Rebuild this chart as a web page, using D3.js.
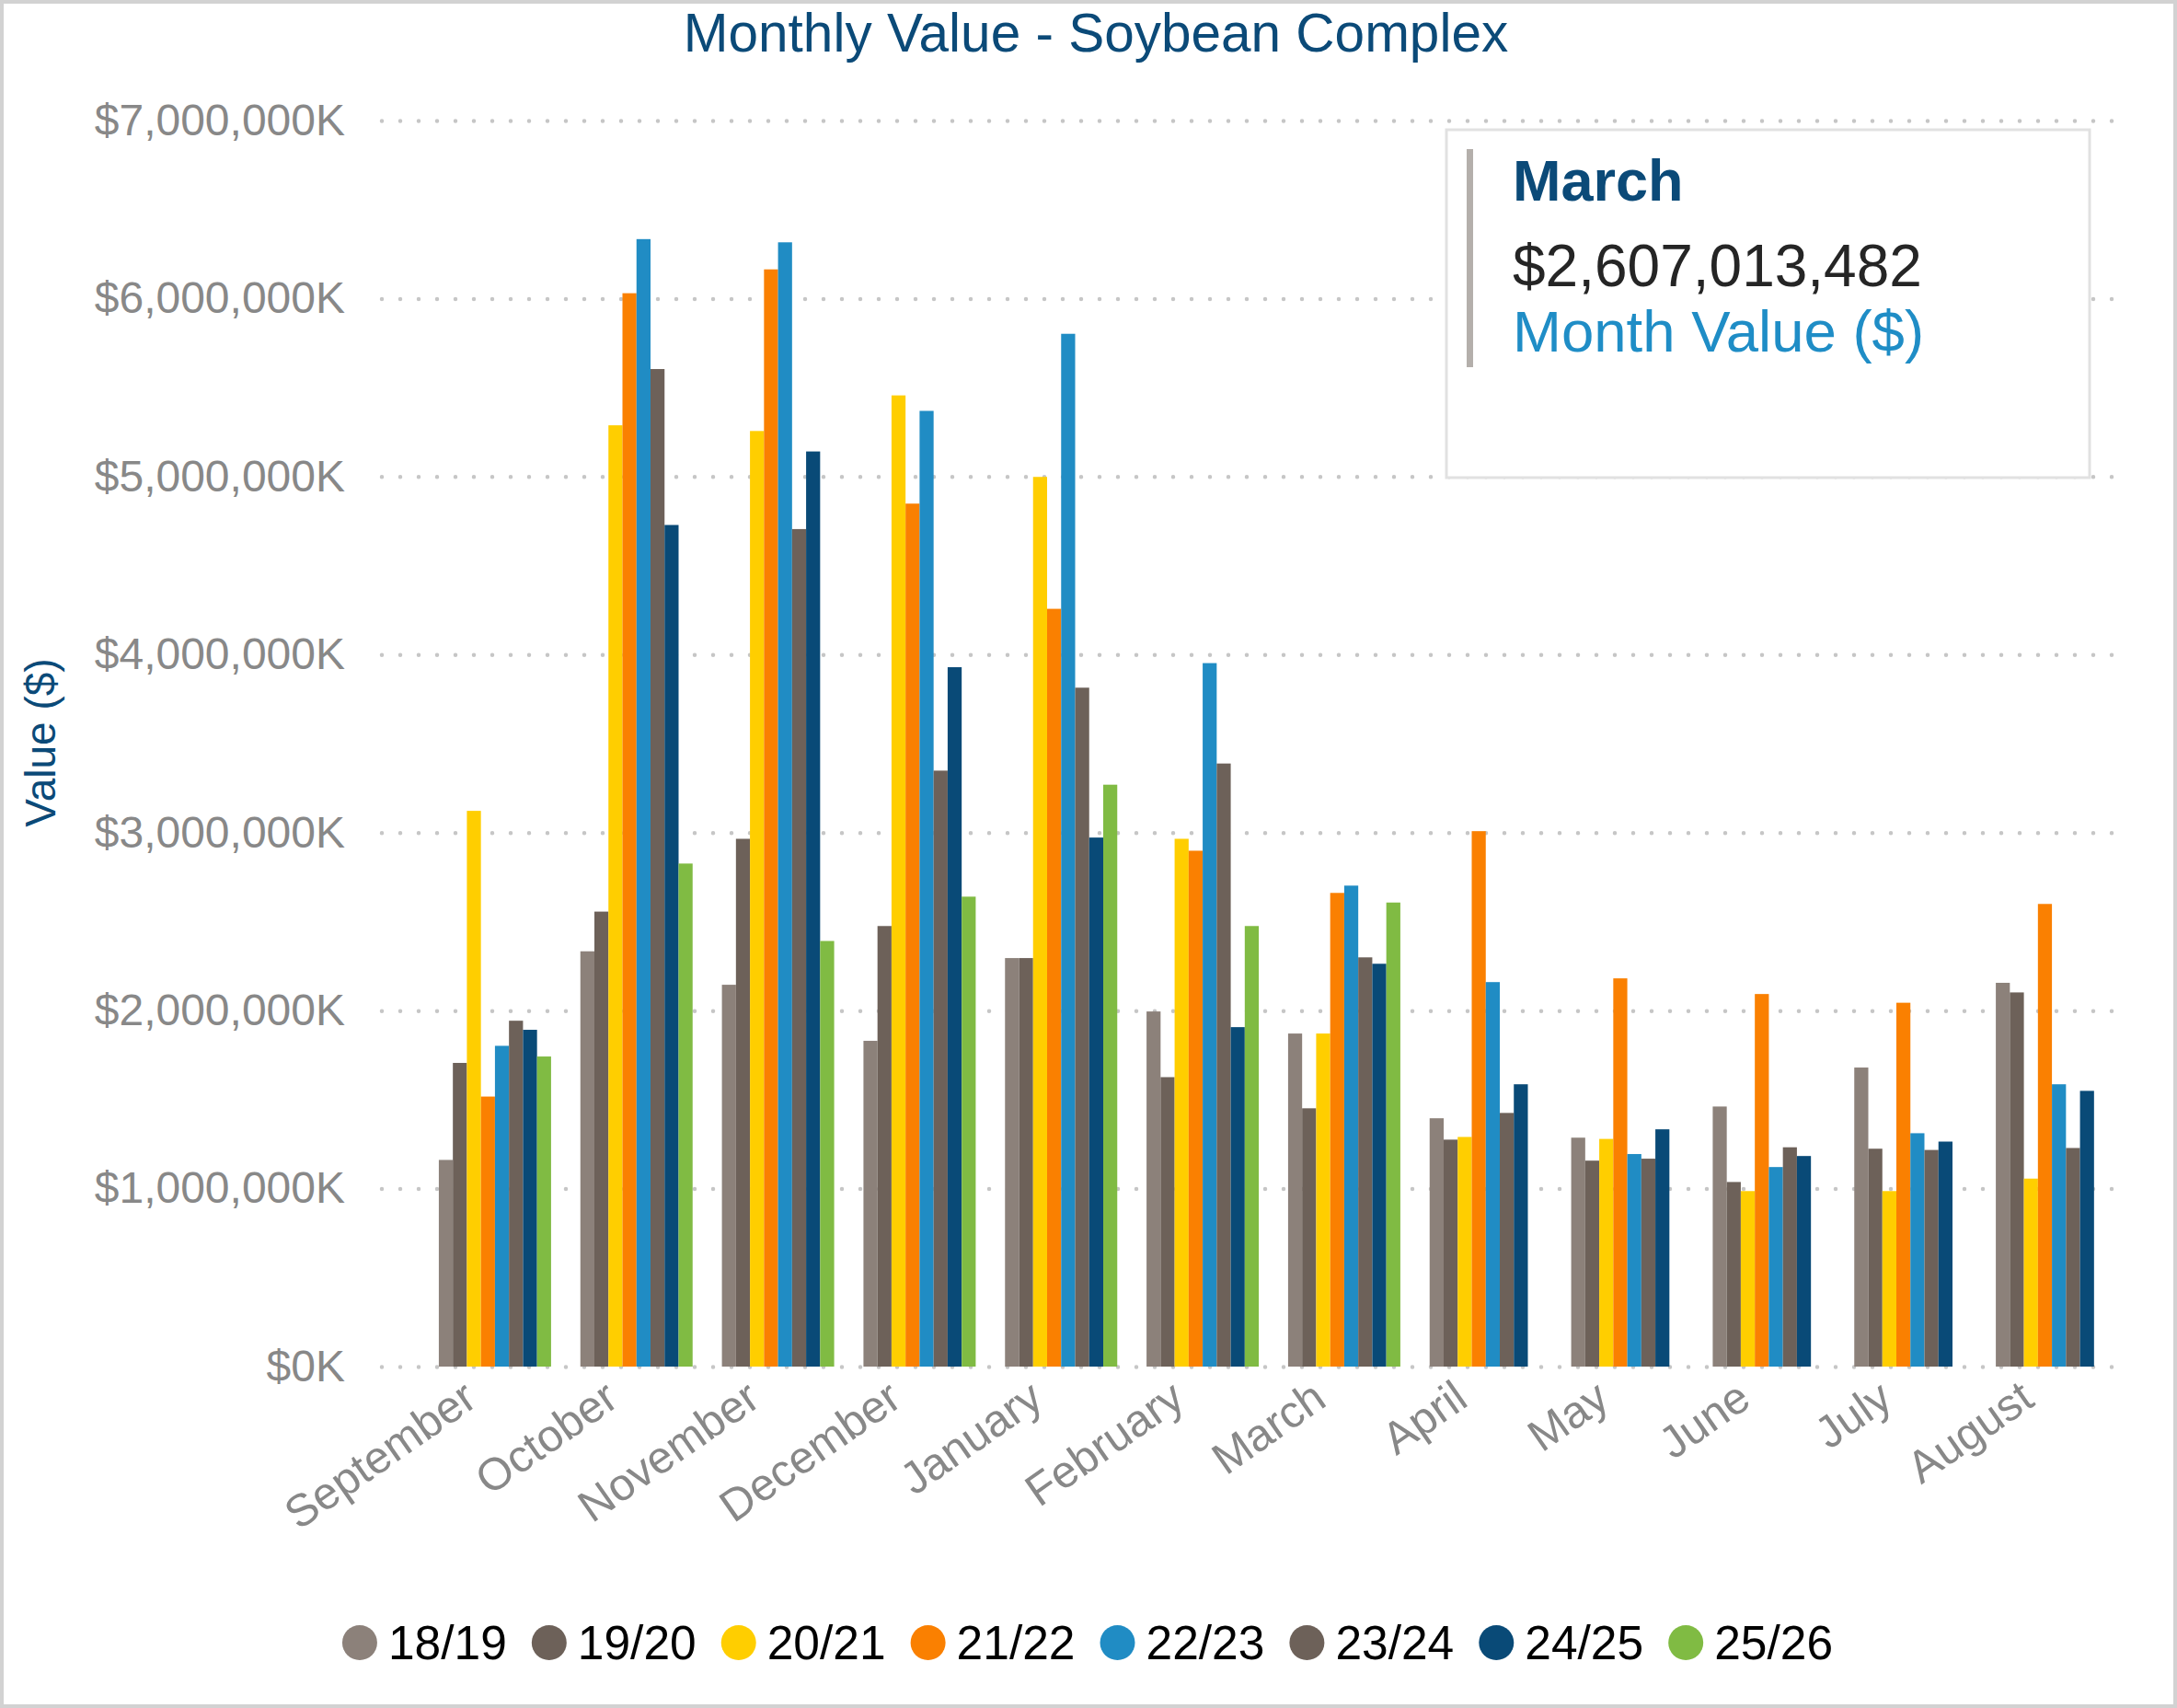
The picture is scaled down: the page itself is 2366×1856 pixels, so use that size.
<!DOCTYPE html>
<html>
<head>
<meta charset="utf-8">
<script src="https://cdn.jsdelivr.net/npm/d3@7"></script>
<style>
  body { margin: 0; background: #fff; }
  svg { display: block; font-family: "Liberation Sans", Arial, sans-serif; }
</style>
</head>
<body>
<svg id="chart"></svg>
<script>
// values in millions of dollars
const months = ["September", "October", "November", "December", "January", "February",
  "March", "April", "May", "June", "July", "August"]
const seasons = ["18/19", "19/20", "20/21", "21/22", "22/23", "23/24", "24/25", "25/26"]
const colors = ["#8c817a", "#6d6159", "#ffce00", "#fa8001", "#208cc4", "#6d6159", "#094a77", "#80bb43"]

const v1819 = [1161, 2333, 2145, 1830, 2295, 1995, 1871, 1395, 1286, 1461, 1680, 2156]
const v1920 = [1706, 2556, 2965, 2475, 2295, 1626, 1451, 1275, 1157, 1037, 1224, 2102]
const v2021 = [3122, 5288, 5256, 5456, 4998, 2965, 1871, 1290, 1279, 986, 986, 1056]
const v2122 = [1517, 6030, 6164, 4848, 4257, 2898, 2661, 3008, 2181, 2093, 2044, 2599]
const v2223 = [1802, 6334, 6316, 5369, 5802, 3952, 2702, 2160, 1194, 1121, 1311, 1586]
const v2324 = [1943, 5604, 4705, 3348, 3814, 3388, 2299, 1425, 1168, 1232, 1217, 1228]
const v2425 = [1892, 4728, 5141, 3929, 2972, 1907, 2263, 1586, 1333, 1183, 1264, 1549]
const v2526 = [1742, 2826, 2391, 2640, 3269, 2475, 2607.013482, null, null, null, null, null]
const seriesValues = [v1819, v1920, v2021, v2122, v2223, v2324, v2425, v2526]

const yTicks = [0, 1000, 2000, 3000, 4000, 5000, 6000, 7000]
const tipMonth = "March"
const tipSeason = "25/26"

const W = 2366, H = 1856
const navy = "#0b4a78"

const svg = d3.select("#chart")
  .attr("width", W)
  .attr("height", H)

svg.append("rect")
  .attr("x", 2).attr("y", 2)
  .attr("width", W - 4).attr("height", H - 4)
  .attr("fill", "#fff")
  .attr("stroke", "#d2d2d2")
  .attr("stroke-width", 4)

const x0 = d3.scaleBand()
  .domain(months)
  .range([461, 2307])
  .paddingInner(0.207)
  .paddingOuter(0.1035)

const x1 = d3.scaleBand()
  .domain(seasons)
  .range([0, x0.bandwidth()])

const y = d3.scaleLinear()
  .domain([0, 7000])
  .range([1485, 131])

// dotted gridlines
const grid = svg.append("g")
  .attr("transform", "translate(415,0)")
  .call(d3.axisLeft(y).tickValues(yTicks).tickSize(-(2297 - 415)).tickFormat(""))
grid.select(".domain").remove()
grid.selectAll("line")
  .attr("stroke", "#c6c6c6")
  .attr("stroke-width", 4.5)
  .attr("stroke-linecap", "round")
  .attr("stroke-dasharray", "0,20")

// y axis labels
const yAxis = svg.append("g")
  .attr("transform", "translate(375,0)")
  .call(d3.axisLeft(y).tickValues(yTicks).tickSize(0).tickPadding(0)
    .tickFormat(d => "$" + d3.format(",")(d * 1000) + "K"))
yAxis.select(".domain").remove()
yAxis.selectAll("text")
  .attr("fill", "#888")
  .style("font-size", "48px")
  .style("font-family", "'Liberation Sans', Arial, sans-serif")

// bars
const rows = []
months.forEach((m, i) => {
  seasons.forEach((s, j) => {
    const v = seriesValues[j][i]
    if (v != null) rows.push({ month: m, season: s, value: v, color: colors[j] })
  })
})

svg.append("g").selectAll("rect")
  .data(rows)
  .enter().append("rect")
  .attr("x", d => x0(d.month) + x1(d.season))
  .attr("width", x1.bandwidth())
  .attr("y", d => y(d.value))
  .attr("height", d => y(0) - y(d.value))
  .attr("fill", d => d.color)

// x axis labels
const xAxis = svg.append("g")
  .attr("transform", "translate(0,1485)")
  .call(d3.axisBottom(x0).tickSize(0))
xAxis.select(".domain").remove()
xAxis.selectAll("text")
  .attr("x", 0).attr("y", 0).attr("dy", 0)
  .attr("text-anchor", "end")
  .attr("transform", "translate(-17,41) rotate(-35)")
  .attr("fill", "#888")
  .style("font-size", "49px")
  .style("font-family", "'Liberation Sans', Arial, sans-serif")

// title
svg.append("text")
  .attr("x", 1191).attr("y", 56)
  .attr("text-anchor", "middle")
  .attr("fill", navy)
  .style("font-size", "58.5px")
  .text("Monthly Value - Soybean Complex")

svg.append("text")
  .attr("transform", "translate(60,807) rotate(-90)")
  .attr("text-anchor", "middle")
  .attr("fill", navy)
  .style("font-size", "46px")
  .text("Value ($)")

// tooltip box
const tipVal = seriesValues[seasons.indexOf(tipSeason)][months.indexOf(tipMonth)]
const tip = svg.append("g")
tip.append("rect")
  .attr("x", 1572).attr("y", 141)
  .attr("width", 699).attr("height", 378)
  .attr("fill", "#fff")
  .attr("stroke", "#e1e1e1")
  .attr("stroke-width", 3)
tip.append("rect")
  .attr("x", 1594).attr("y", 162)
  .attr("width", 7).attr("height", 237)
  .attr("fill", "#b4afab")
tip.append("text")
  .attr("x", 1644).attr("y", 218)
  .attr("fill", navy)
  .style("font-size", "63px")
  .style("font-weight", "bold")
  .text(tipMonth)
tip.append("text")
  .attr("x", 1644).attr("y", 311)
  .attr("fill", "#252525")
  .style("font-size", "64px")
  .text(d3.format("$,")(Math.round(tipVal * 1e6)))
tip.append("text")
  .attr("x", 1644).attr("y", 382)
  .attr("fill", "#1f8dc6")
  .style("font-size", "63.5px")
  .text("Month Value ($)")

// legend
const legend = svg.append("g")
let lx = 0
seasons.forEach((s, j) => {
  const item = legend.append("g").attr("transform", "translate(" + lx + ",0)")
  item.append("circle")
    .attr("cx", 19).attr("cy", 0).attr("r", 19)
    .attr("fill", colors[j])
  const t = item.append("text")
    .attr("x", 50).attr("y", 0).attr("dy", "0.35em")
    .attr("fill", "#000")
    .style("font-size", "51.5px")
    .text(s)
  lx += 50 + t.node().getComputedTextLength() + 27
})
const legendW = lx - 27
legend.attr("transform", "translate(" + (1182 - legendW / 2) + ",1785)")
</script>
</body>
</html>
